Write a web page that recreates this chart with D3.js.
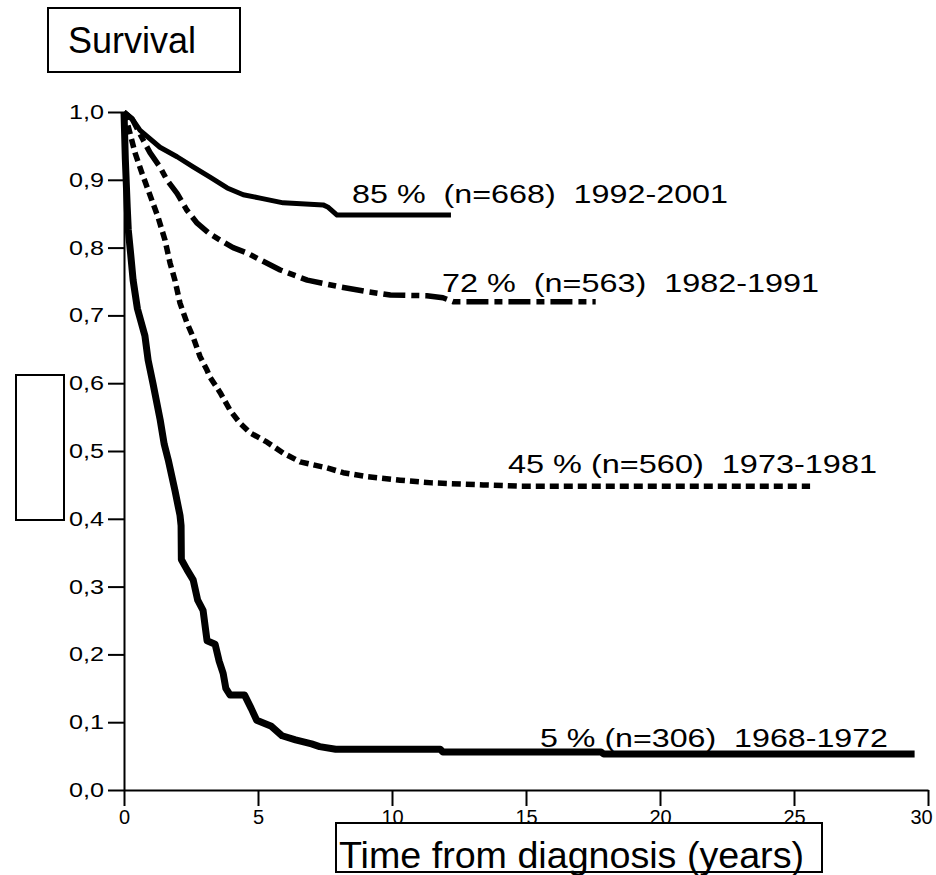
<!DOCTYPE html>
<html>

<head>
  <script src="https://d3js.org/d3.v7.min.js"></script>
  <style>
    body {
      margin: 0;
      background: #fff;
    }

    svg {
      font-family: "Liberation Sans", Arial, sans-serif;
    }

    .curve {
      fill: none;
      stroke: #000;
      stroke-linejoin: round;
    }

    .axis path,
    .axis line {
      stroke: #000;
      stroke-width: 2px;
    }

    .label {
      font-size: 25px;
      white-space: pre;
    }

    .box {
      fill: #fff;
      stroke: #000;
      stroke-width: 2px;
    }
  </style>
</head>

<body>
  <div id="chart"></div>
  <script>
/* Data (years, survival fraction) */
var years1992 = [0, 0.3, 0.6, 1.34, 1.98, 2.58, 3.21, 3.85, 4.45, 5.08, 5.94, 7.43, 7.6, 7.95, 12.2];
var surv1992  = [1.0, 0.99, 0.973, 0.948, 0.934, 0.919, 0.904, 0.888, 0.878, 0.873, 0.866, 0.863, 0.86, 0.848, 0.848];

var years1982 = [0, 0.3, 0.71, 0.97, 1.34, 1.6, 1.98, 2.35, 2.73, 3.21, 3.59, 4.07, 4.6, 5.08, 5.83, 6.84, 8.07, 9.08, 9.94, 11.3, 11.9, 12.3, 17.6];
var surv1982  = [1.0, 0.99, 0.959, 0.94, 0.919, 0.9, 0.88, 0.855, 0.836, 0.82, 0.811, 0.8, 0.792, 0.782, 0.767, 0.752, 0.742, 0.735, 0.73, 0.729, 0.726, 0.72, 0.72];

var years1973 = [0, 0.15, 0.41, 0.67, 0.9, 1.27, 1.53, 1.72, 1.9, 2.09, 2.35, 2.58, 2.84, 3.1, 3.21, 3.59, 3.96, 4.33, 4.7, 5.34, 5.94, 6.57, 7.58, 8.18, 9.08, 10.3, 11.5, 13.4, 14.8, 25.6];
var surv1973  = [1.0, 0.98, 0.94, 0.91, 0.885, 0.845, 0.811, 0.777, 0.752, 0.718, 0.689, 0.668, 0.639, 0.619, 0.609, 0.586, 0.56, 0.541, 0.527, 0.513, 0.497, 0.484, 0.475, 0.468, 0.462, 0.457, 0.453, 0.45, 0.448, 0.448];

var years1968 = [0, 0.05, 0.12, 0.16, 0.25, 0.34, 0.5, 0.78, 0.9, 1.08, 1.35, 1.5, 1.65, 1.9, 2.09, 2.13, 2.14, 2.35, 2.58, 2.75, 2.95, 3.05, 3.1, 3.4, 3.55, 3.7, 3.8, 3.96, 4.5, 4.75, 4.95, 5.5, 5.9, 6.4, 7.0, 7.3, 7.9, 11.8, 11.9, 17.8, 17.9, 29.5];
var surv1968  = [1.0, 0.93, 0.86, 0.826, 0.79, 0.752, 0.71, 0.67, 0.634, 0.6, 0.546, 0.51, 0.487, 0.442, 0.405, 0.39, 0.34, 0.325, 0.31, 0.28, 0.265, 0.235, 0.22, 0.215, 0.19, 0.172, 0.15, 0.14, 0.14, 0.12, 0.103, 0.094, 0.08, 0.074, 0.068, 0.064, 0.06, 0.06, 0.056, 0.056, 0.053, 0.053];

var curveLabels = ["85 %  (n=668)  1992-2001", "72 %  (n=563)  1982-1991", "45 % (n=560)  1973-1981", "5 % (n=306)  1968-1972"];
var xTicks = [0, 5, 10, 15, 20, 25, 30];
var yTicks = [0, 0.1, 0.2, 0.3, 0.4, 0.5, 0.6, 0.7, 0.8, 0.9, 1.0];

var width = 936;
var height = 875;

/* Scale */
var xScale = d3.scaleLinear().domain([0, 30]).range([124, 928]);
var yScale = d3.scaleLinear().domain([0, 1]).range([790, 112]);

var svg = d3.select("#chart").append("svg")
  .attr("width", width)
  .attr("height", height);

/* Axes */
var xAxis = d3.axisBottom(xScale)
  .tickValues(xTicks)
  .tickSize(16)
  .tickSizeOuter(0)
  .tickPadding(4);

var yAxis = d3.axisLeft(yScale)
  .tickValues(yTicks)
  .tickSize(16)
  .tickSizeOuter(0)
  .tickPadding(4)
  .tickFormat(d => d3.format(".1f")(d).replace(".", ","));

var gx = svg.append("g")
  .attr("class", "x axis")
  .attr("transform", "translate(0, 790)")
  .call(xAxis);

gx.selectAll("text")
  .style("font-size", "20px")
  .style("font-family", "'Liberation Sans', Arial, sans-serif")
  .attr("dx", d => d === 30 ? -7 : 0);

svg.append("g")
  .attr("class", "y axis")
  .attr("transform", "translate(124, 0)")
  .call(yAxis)
  .selectAll("text")
  .style("font-size", "20px")
  .style("font-family", "'Liberation Sans', Arial, sans-serif")
  .attr("textLength", 35)
  .attr("lengthAdjust", "spacingAndGlyphs");

/* Curves */
var series = [
  {x: years1992, y: surv1992, width: 5, dash: null},
  {x: years1982, y: surv1982, width: 5.5, dash: "22 6 8 6"},
  {x: years1973, y: surv1973, width: 5.5, dash: "9 5"},
  {x: years1968, y: surv1968, width: 7, dash: null}
];

var line = d3.line()
  .x(d => xScale(d[0]))
  .y(d => yScale(d[1]));

svg.append("g")
  .selectAll("path")
  .data(series).enter()
  .append("path")
  .attr("class", "curve")
  .attr("d", s => line(s.x.map((t, i) => [t, s.y[i]])))
  .style("stroke-width", s => s.width + "px")
  .style("stroke-dasharray", s => s.dash);

/* Curve labels */
var labelPos = [
  {x: 352, y: 203, len: 376},
  {x: 442, y: 292, len: 377},
  {x: 508, y: 473, len: 369},
  {x: 540, y: 747, len: 348}
];

svg.append("g")
  .selectAll("text")
  .data(curveLabels).enter()
  .append("text")
  .attr("class", "label")
  .attr("x", (d, i) => labelPos[i].x)
  .attr("y", (d, i) => labelPos[i].y)
  .attr("textLength", (d, i) => labelPos[i].len)
  .attr("lengthAdjust", "spacingAndGlyphs")
  .text(d => d);

/* Boxes */
svg.append("rect")
  .attr("class", "box")
  .attr("x", 48).attr("y", 8)
  .attr("width", 192).attr("height", 64);

svg.append("text")
  .attr("x", 68)
  .attr("y", 53)
  .style("font-size", "36px")
  .text("Survival");

svg.append("rect")
  .attr("class", "box")
  .attr("x", 16).attr("y", 375)
  .attr("width", 48).attr("height", 145);

svg.append("rect")
  .attr("class", "box")
  .attr("x", 336).attr("y", 823)
  .attr("width", 486).attr("height", 49);

svg.append("text")
  .attr("x", 339)
  .attr("y", 868)
  .attr("textLength", 465)
  .attr("lengthAdjust", "spacingAndGlyphs")
  .style("font-size", "36px")
  .text("Time from diagnosis (years)");
  </script>
</body>

</html>
